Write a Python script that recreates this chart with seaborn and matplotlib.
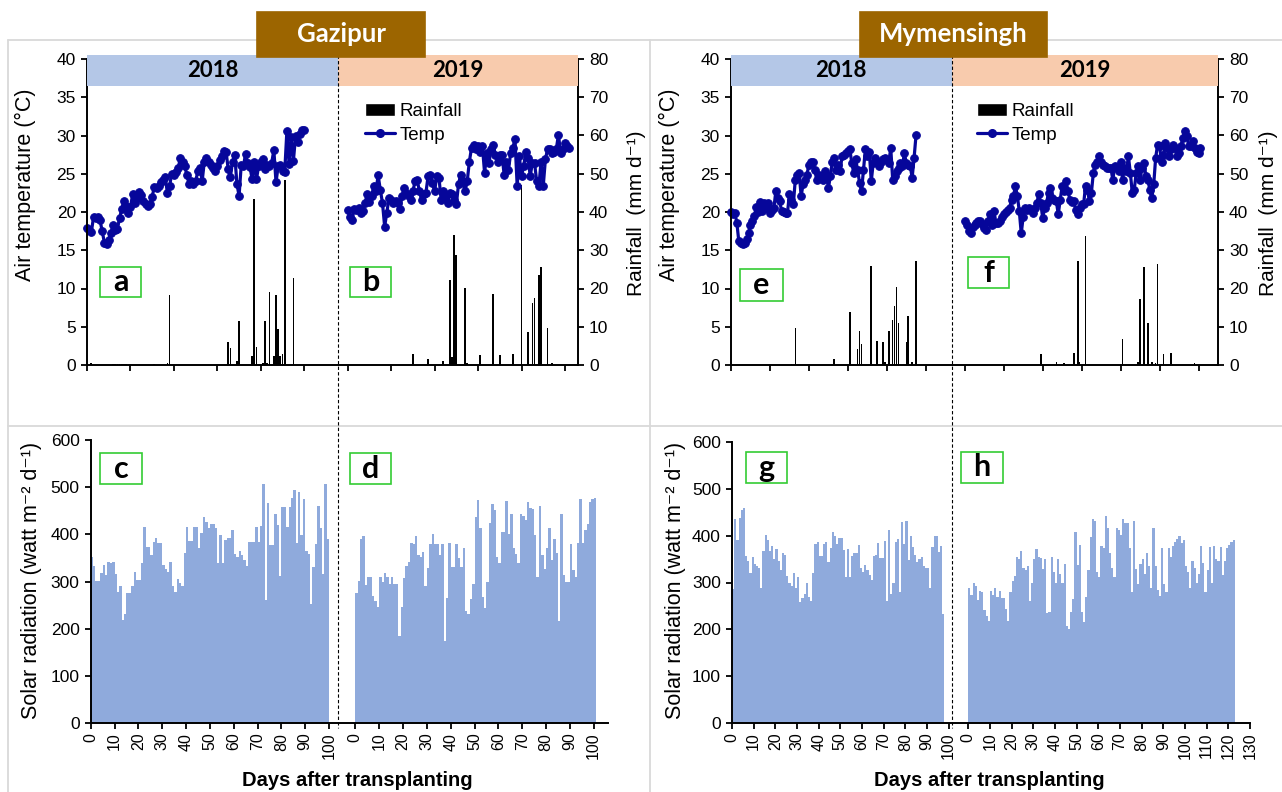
import numpy as np
import pandas as pd
import matplotlib
matplotlib.use("Agg")
import matplotlib.pyplot as plt
import seaborn as sns
from matplotlib.patches import Rectangle, Patch
from matplotlib.lines import Line2D

# ---------------- data ----------------
# daily mean air temperature (deg C), day 0 = transplanting
gaz18_temp = [17.9, 17.6, 17.4, 19.3, 19.2, 19.4, 18.9, 17.5, 16.0, 15.8,
              16.4, 17.2, 18.3, 17.6, 17.8, 19.2, 20.4, 21.5, 20.8, 19.9,
              20.6, 22.3, 21.2, 21.8, 22.6, 22.2, 21.5, 21.0, 20.8, 21.0,
              22.0, 23.3, 23.2, 23.4, 23.9, 24.2, 24.6, 22.5, 23.4, 25.0,
              24.8, 25.2, 25.8, 27.1, 26.6, 26.0, 24.8, 23.6, 24.1, 23.6,
              24.0, 25.3, 25.8, 24.0, 26.6, 27.1, 26.6, 26.2, 25.8, 25.4,
              26.0, 26.8, 27.3, 28.0, 27.9, 25.6, 24.6, 26.6, 27.5, 23.7,
              22.1, 26.2, 26.0, 27.6, 26.4, 25.9, 24.3, 26.6, 24.3, 26.0,
              26.5, 26.9, 25.6, 26.2, 26.0, 26.4, 28.1, 23.9, 26.0, 26.2,
              25.4, 25.2, 30.6, 26.3, 29.8, 26.7, 29.9, 29.1, 30.2, 30.7,
              30.7]
gaz19_temp = [20.3, 19.4, 19.0, 20.4, 20.3, 20.5, 19.9, 20.1, 21.2, 22.4,
              21.3, 22.1, 23.4, 22.7, 24.8, 22.9, 21.2, 18.1, 19.9, 21.8,
              21.6, 21.2, 21.4, 21.2, 20.4, 22.1, 23.1, 22.5, 22.1, 21.6,
              22.7, 24.0, 24.2, 22.7, 21.6, 22.3, 22.5, 24.7, 24.9, 23.8,
              22.7, 24.7, 24.5, 21.6, 22.7, 22.1, 21.2, 22.5, 22.3, 21.6,
              21.0, 23.6, 24.9, 24.0, 22.7, 24.0, 26.6, 28.4, 28.8, 28.2,
              28.6, 27.9, 28.6, 25.1, 27.7, 26.4, 28.2, 28.7, 27.5, 26.6,
              27.5, 27.5, 24.9, 26.6, 25.5, 27.7, 28.4, 29.5, 23.4, 27.3,
              24.7, 26.0, 27.9, 27.1, 24.7, 26.4, 26.4, 24.0, 23.4, 26.6,
              23.4, 26.9, 28.2, 28.2, 27.7, 27.9, 28.2, 30.1, 27.7, 28.2,
              29.0, 28.6, 28.4]
mym18_temp = [20.0, 19.8, 19.9, 18.6, 16.2, 15.9, 15.8, 15.9, 16.5, 17.3,
              18.3, 18.8, 19.5, 20.7, 20.0, 21.3, 20.1, 21.2, 20.5, 21.2,
              19.9, 20.2, 20.5, 22.7, 21.8, 21.4, 20.1, 20.0, 19.9, 19.9,
              22.4, 21.6, 21.0, 24.2, 24.8, 25.1, 22.1, 23.6, 24.2, 24.9,
              26.2, 26.5, 26.6, 25.5, 24.2, 24.9, 24.7, 24.2, 25.3, 24.9,
              23.1, 24.7, 26.6, 27.1, 25.5, 26.2, 25.3, 27.3, 27.5, 27.7,
              28.0, 28.2, 26.4, 25.1, 26.9, 25.5, 23.8, 22.7, 25.5, 28.2,
              27.3, 27.9, 24.0, 26.4, 27.1, 26.6, 26.0, 26.6, 26.9, 27.1,
              26.8, 26.4, 28.4, 24.2, 24.7, 25.3, 25.8, 26.4, 26.0, 27.7,
              26.4, 26.2, 26.0, 24.5, 27.1, 30.1]
mym19_temp = [18.8, 18.3, 17.5, 17.2, 18.1, 18.3, 18.5, 18.8, 18.8, 18.4,
              17.9, 17.7, 18.8, 19.7, 18.3, 20.1, 18.6, 18.6, 18.8, 19.4,
              19.7, 20.0, 20.3, 20.5, 21.6, 22.1, 23.4, 22.1, 20.1, 17.2,
              19.4, 20.5, 20.3, 20.5, 20.2, 19.9, 20.5, 21.2, 22.3, 21.2,
              19.2, 20.5, 21.2, 22.5, 23.1, 21.8, 21.6, 21.4, 19.7, 21.6,
              23.4, 22.7, 24.1, 22.7, 21.6, 21.3, 21.4, 20.3, 19.7, 20.5,
              21.0, 21.0, 23.4, 22.9, 21.4, 22.5, 25.1, 26.2, 26.6, 27.3,
              26.6, 26.2, 26.0, 25.8, 25.8, 25.8, 24.2, 26.0, 25.8, 25.3,
              26.6, 24.2, 25.8, 25.3, 27.3, 25.1, 22.5, 22.9, 25.1, 26.0,
              24.2, 25.8, 26.4, 24.7, 24.2, 22.9, 21.8, 23.6, 27.1, 28.8,
              28.6, 26.6, 27.5, 29.0, 28.4, 27.3, 28.2, 28.8, 28.4, 27.3,
              27.7, 28.6, 29.7, 30.6, 29.9, 28.6, 28.6, 29.3, 28.4, 27.9,
              27.7, 28.4]

# daily rainfall (mm d-1), only the rainy days
gaz18_rain_day = [2, 12, 13, 14, 15, 16, 17, 18, 31, 37, 38, 65, 66, 69, 70,
                  76, 77, 78, 81, 82, 83, 84, 86, 87, 88, 89, 90, 91, 95]
gaz18_rain_mm = [0.4, 0.3, 0.3, 0.3, 0.3, 0.3, 0.3, 0.3, 0.3, 0.4, 18.2, 6.0, 4.4, 1.0, 11.4,
                 2.4, 43.4, 4.8, 0.4, 11.6, 0.6, 19.2, 2.4, 18.4, 9.4, 2.4, 3.0, 48.4, 22.8]
gaz19_rain_day = [30, 37, 44, 47, 48, 49, 50, 54, 55, 61, 67, 70, 76, 80, 83,
                  85, 86, 88, 89, 92, 94]
gaz19_rain_mm = [2.8, 1.5, 1.1, 22.3, 2.0, 34.0, 28.8, 20.2, 0.4, 2.6, 18.6, 2.6, 2.9, 47.0, 8.7,
                 16.1, 17.5, 23.6, 25.6, 9.6, 0.4]
mym18_rain_day = [31, 33, 53, 61, 65, 66, 67, 72, 75, 78, 79, 81, 83, 84, 85,
                  86, 90, 91, 93, 95]
mym18_rain_mm = [0.3, 9.6, 1.5, 13.8, 4.2, 9.0, 5.5, 25.9, 6.4, 5.9, 0.9, 9.0, 11.8, 15.3, 20.5,
                 10.9, 5.9, 12.7, 0.9, 27.1]
mym19_rain_day = [39, 47, 51, 56, 58, 59, 62, 81, 89, 90, 92, 94, 96, 98, 99,
                  102, 106, 118]
mym19_rain_mm = [2.9, 0.9, 0.4, 3.1, 27.3, 0.9, 33.6, 6.7, 0.9, 17.2, 25.5, 10.9, 0.9, 0.6, 26.4,
                 2.9, 3.1, 0.6]

# daily solar radiation (watt m-2 d-1)
gaz18_solar = [352, 333, 301, 301, 317, 336, 313, 342, 340, 342,
               315, 277, 290, 219, 232, 275, 275, 291, 320, 304,
               303, 340, 416, 374, 374, 356, 384, 393, 381, 381,
               335, 326, 320, 342, 291, 278, 305, 296, 290, 361,
               416, 386, 386, 415, 415, 372, 402, 436, 427, 413,
               422, 422, 413, 340, 398, 340, 388, 393, 393, 409,
               358, 352, 365, 356, 345, 333, 383, 384, 384, 415,
               384, 418, 507, 260, 466, 377, 377, 444, 420, 311,
               457, 457, 415, 457, 476, 495, 381, 490, 398, 474,
               364, 358, 252, 331, 379, 460, 413, 316, 507, 390]
gaz19_solar = [276, 301, 391, 397, 292, 310, 309, 269, 258, 246,
               310, 299, 317, 309, 294, 310, 294, 294, 185, 246,
               308, 333, 342, 381, 379, 397, 356, 352, 362, 290,
               329, 379, 400, 379, 379, 356, 379, 174, 266, 381,
               331, 331, 379, 350, 331, 370, 238, 232, 262, 294,
               436, 473, 413, 268, 244, 298, 425, 464, 452, 351,
               340, 405, 404, 471, 400, 444, 372, 358, 340, 444,
               439, 430, 468, 455, 453, 398, 309, 461, 357, 326,
               372, 414, 345, 391, 360, 217, 444, 314, 299, 299,
               379, 324, 309, 381, 474, 381, 409, 422, 468, 475,
               476]
mym18_solar = [286, 436, 390, 437, 454, 460, 357, 345, 320, 354,
               340, 335, 332, 288, 367, 401, 390, 367, 377, 350,
               372, 345, 327, 363, 358, 313, 300, 292, 320, 288,
               311, 258, 267, 276, 299, 270, 261, 320, 382, 386,
               357, 357, 382, 386, 343, 373, 407, 399, 382, 394,
               394, 370, 312, 372, 312, 357, 364, 364, 381, 331,
               322, 337, 327, 317, 306, 356, 359, 384, 353, 353,
               388, 261, 413, 276, 300, 386, 392, 280, 430, 382,
               432, 347, 400, 375, 358, 343, 350, 355, 335, 330,
               330, 288, 375, 400, 400, 365, 377, 233]
mym19_solar = [288, 274, 299, 292, 263, 281, 279, 241, 228, 217,
               281, 273, 288, 269, 281, 267, 267, 243, 217, 279,
               304, 313, 354, 350, 367, 331, 326, 335, 260, 300,
               350, 372, 354, 352, 329, 350, 235, 238, 354, 322,
               300, 350, 319, 300, 340, 208, 201, 236, 265, 407,
               338, 381, 237, 216, 270, 326, 397, 436, 431, 322,
               312, 377, 374, 441, 416, 362, 331, 312, 416, 413,
               402, 436, 428, 426, 374, 279, 432, 329, 297, 340,
               350, 318, 363, 335, 288, 416, 336, 283, 272, 374,
               297, 279, 374, 354, 379, 386, 393, 400, 384, 391,
               335, 322, 288, 345, 331, 300, 319, 379, 342, 279,
               326, 376, 300, 379, 350, 345, 376, 317, 345, 374,
               381, 386, 391]

# ---------------- style ----------------
sns.set_theme(style="ticks", rc={"axes.edgecolor": "black", "xtick.color": "black",
                                 "ytick.color": "black", "text.color": "black",
                                 "axes.labelcolor": "black", "axes.linewidth": 1.4})
plt.rcParams["font.family"] = ["Liberation Sans", "DejaVu Sans"]

NAVY = "#06069a"
SOLAR = "#8faadc"
BLUE = "#b4c7e7"
PEACH = "#f8cbad"
BROWN = "#9c6500"
GREEN = "#33cc33"
W, H = 1282, 792

fig = plt.figure(figsize=(W / 100, H / 100), dpi=100)


def add_ax(x0, y0, x1, y1):
    return fig.add_axes([x0 / W, 1 - y1 / H, (x1 - x0) / W, (y1 - y0) / H])


def fig_line(x0, y0, x1, y1, **kw):
    fig.add_artist(Line2D([x0 / W, x1 / W], [1 - y0 / H, 1 - y1 / H],
                          transform=fig.transFigure, **kw))


def fig_box(x0, y0, x1, y1, text, face, edge, color, size):
    fig.add_artist(Rectangle((x0 / W, 1 - y1 / H), (x1 - x0) / W, (y1 - y0) / H,
                             transform=fig.transFigure, facecolor=face,
                             edgecolor=edge, lw=1.2, zorder=10))
    fig.text((x0 + x1) / 2 / W, 1 - (y0 + y1) / 2 / H, text, ha="center", va="center",
             color=color, fontsize=size, fontweight="bold", family="Lato", zorder=11)


def top_panel(ax, t18, t19, rd18, rv18, rd19, rv19, off, sep, xmax, last19, leg_xy):
    ax2 = ax.twinx()
    ax.set_zorder(ax2.get_zorder() + 1)
    ax.patch.set_visible(False)
    rain = pd.DataFrame({"day": np.concatenate([rd18, np.asarray(rd19) + off]),
                         "mm": np.concatenate([rv18, rv19])})
    sns.histplot(data=rain, x="day", weights="mm", binwidth=1, binrange=(-0.5, xmax + 0.5),
                 shrink=0.8, color="black", alpha=1, linewidth=0, ax=ax2)
    for t, o in ((t18, 0), (t19, off)):
        temp = pd.DataFrame({"day": np.arange(len(t)) + o, "temp": t})
        sns.lineplot(data=temp, x="day", y="temp", color=NAVY, linewidth=2.3, marker="o",
                     markersize=5.5, markeredgecolor=NAVY, clip_on=False, ax=ax)
    ax.set_xlim(0, xmax)
    ax.set_ylim(0, 40)
    ax2.set_ylim(0, 80)
    ax.set_yticks(range(0, 41, 5))
    ax2.set_yticks(range(0, 81, 10))
    ax.set_xticks(list(range(0, 101, 20)) + [off + k for k in range(0, last19 + 1, 20)])
    ax.set_xticklabels([])
    for a in (ax, ax2):
        a.set_xlabel("")
        a.set_ylabel("")
        a.tick_params(direction="out", length=4, width=1.3, labelsize=12.5, pad=4)
    ax.spines[["top", "right"]].set_visible(False)
    ax2.spines[["top", "left", "bottom"]].set_visible(False)
    tr = ax.get_xaxis_transform()
    for x0, x1, face, label in ((0, sep, BLUE, "2018"), (sep, xmax, PEACH, "2019")):
        ax.add_patch(Rectangle((x0, 0.912), x1 - x0, 0.101, transform=tr, facecolor=face,
                               edgecolor="none", clip_on=False, zorder=6))
        ax.text((x0 + x1) / 2, 0.962, label, transform=tr, ha="center", va="center",
                fontsize=16, fontweight="bold", family="Lato", zorder=7)
    handles = [Patch(facecolor="black", label="Rainfall"),
               Line2D([], [], color=NAVY, lw=2.3, marker="o", ms=5.5, label="Temp")]
    ax.legend(handles=handles, loc="upper left", bbox_to_anchor=(leg_xy[0] / W, 1 - leg_xy[1] / H),
              bbox_transform=fig.transFigure, frameon=False, fontsize=13.5, borderpad=0,
              borderaxespad=0, handlelength=1.6, handletextpad=0.25, labelspacing=0.35)


def bottom_panel(ax, s18, s19, off, xmax, last19):
    solar = pd.DataFrame({"day": np.concatenate([np.arange(len(s18)), np.arange(len(s19)) + off]) + 0.5,
                          "rad": np.concatenate([s18, s19])})
    sns.histplot(data=solar, x="day", weights="rad", binwidth=1, binrange=(0, xmax),
                 color=SOLAR, alpha=1, linewidth=0, ax=ax)
    ax.set_xlim(0, xmax)
    ax.set_ylim(0, 600)
    ax.set_yticks(range(0, 601, 100))
    t18 = list(range(0, 101, 10))
    t19 = list(range(0, last19 + 1, 10))
    ax.set_xticks(t18 + [off + t for t in t19])
    ax.set_xticklabels([str(t) for t in t18 + t19], rotation=90)
    ax.set_xlabel("")
    ax.set_ylabel("")
    ax.spines[["top", "right"]].set_visible(False)
    ax.tick_params(axis="y", direction="out", length=4, width=1.3, labelsize=12.5, pad=4)
    ax.tick_params(axis="x", direction="out", length=4, width=1.3, labelsize=11.5, pad=3)


# ---------------- panels ----------------
gaz_top = add_ax(87, 59, 578, 365)
mym_top = add_ax(731, 59, 1218, 365)
gaz_bot = add_ax(90.7, 440, 608, 723)
mym_bot = add_ax(732, 442, 1250, 723)

top_panel(gaz_top, gaz18_temp, gaz19_temp, gaz18_rain_day, gaz18_rain_mm,
          gaz19_rain_day, gaz19_rain_mm, off=120, sep=115.6, xmax=226, last19=100,
          leg_xy=(365, 103))
top_panel(mym_top, mym18_temp, mym19_temp, mym18_rain_day, mym18_rain_mm,
          mym19_rain_day, mym19_rain_mm, off=120, sep=113.2, xmax=250, last19=120,
          leg_xy=(977, 103))
bottom_panel(gaz_bot, gaz18_solar, gaz19_solar, off=111, xmax=217, last19=100)
bottom_panel(mym_bot, mym18_solar, mym19_solar, off=109, xmax=239, last19=130)

# ---------------- decorations ----------------
# light cell borders
for (x0, y0, x1, y1) in ((8, 40, W, 40), (8, 426, W, 426), (8, 40, 8, H), (650, 40, 650, H)):
    fig_line(x0, y0, x1, y1, color="#d9d9d9", lw=1.3, zorder=0)

# dashed separators between 2018 and 2019
for ax, sep in ((gaz_top, 115.6), (mym_top, 113.2)):
    xf = fig.transFigure.inverted().transform(ax.transData.transform((sep, 0)))[0]
    fig.add_artist(Line2D([xf, xf], [1 - 55 / H, 1 - 728 / H], transform=fig.transFigure,
                          color="black", lw=0.8, ls=(0, (3, 2)), zorder=5))

fig_box(257, 12, 425, 57, "Gazipur", BROWN, BROWN, "white", 18.5)
fig_box(860, 12, 1047, 57, "Mymensingh", BROWN, BROWN, "white", 18.5)

for (x0, y0, x1, y1, ch) in ((100, 267, 141, 297, "a"), (350, 267, 391, 297, "b"),
                             (740, 269, 783, 301, "e"), (968, 257, 1009, 288, "f"),
                             (100, 453, 142, 484, "c"), (350, 453, 391, 484, "d"),
                             (746, 452, 787, 483, "g"), (961, 452, 1003, 483, "h")):
    fig_box(x0, y0, x1, y1, ch, "white", GREEN, "black", 22)

# axis titles
for x in (25, 669):
    fig.text(x / W, 1 - 185 / H, "Air temperature (°C)", rotation=90, ha="center",
             va="center", fontsize=15.5)
    fig.text((x + 7) / W, 1 - 580 / H, "Solar radiation (watt m⁻² d⁻¹)", rotation=90,
             ha="center", va="center", fontsize=15.5)
for x in (637, 1268):
    fig.text(x / W, 1 - 213 / H, "Rainfall  (mm d⁻¹)", rotation=90, ha="center",
             va="center", fontsize=15)
for x in (357, 989):
    fig.text(x / W, 1 - 781 / H, "Days after transplanting", ha="center", va="center",
             fontsize=14.5, fontweight="bold")

fig.savefig("out.png", dpi=100)
